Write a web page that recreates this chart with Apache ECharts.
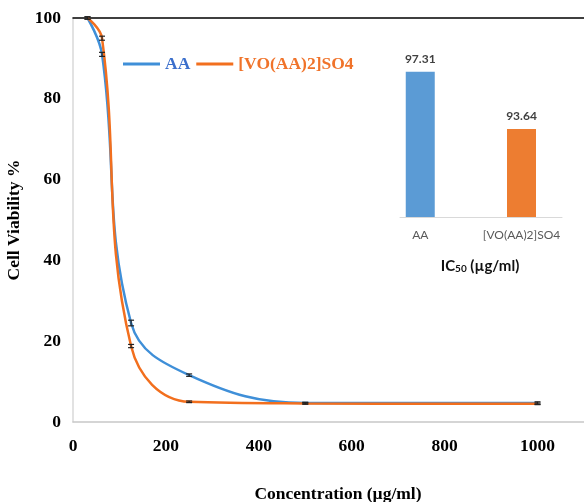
<!DOCTYPE html>
<html>
<head>
<meta charset="utf-8">
<script src="https://cdn.jsdelivr.net/npm/echarts@6/dist/echarts.min.js"></script>
<style>
  html, body { margin: 0; padding: 0; background: #fff; }
  #chart { width: 584px; height: 502px; }
</style>
</head>
<body>
<div id="chart"></div>
<script>
// concentrations (µg/ml) and cell viability (%)
const conc = [31.25, 62.5, 125, 250, 500, 1000];
const aaVals = [100, 91, 24.5, 11.6, 4.7, 4.7];
const voVals = [100, 95, 18.8, 5.0, 4.6, 4.5];
const aaErr = [0.3, 0.5, 0.7, 0.3, 0.2, 0.3];
const voErr = [0.3, 0.5, 0.4, 0.2, 0.2, 0.2];

// inset IC50 bars
const icNames = ["AA", "[VO(AA)2]SO4"];
const icVals = [97.31, 93.64];

const xTicks = [0, 200, 400, 600, 800, 1000];

const serif = "Liberation Serif";
const fs = 17.5;
const blue = "#3f8fd8";
const orange = "#f26f1e";

const chart = echarts.init(document.getElementById("chart"));

function pairs(vals) {
  return conc.map((c, i) => [c, vals[i]]);
}
function errRows(vals, errs) {
  return conc.map((c, i) => [c, vals[i] - errs[i], vals[i] + errs[i]]);
}

// small I-shaped error bars
function renderErr(params, api) {
  const x = api.value(0);
  const lo = api.coord([x, api.value(1)]);
  const hi = api.coord([x, api.value(2)]);
  const w = 3;
  const style = { stroke: "#222", lineWidth: 1.2 };
  return {
    type: "group",
    children: [
      { type: "line", shape: { x1: lo[0], y1: lo[1], x2: hi[0], y2: hi[1] }, style: style },
      { type: "line", shape: { x1: lo[0] - w, y1: lo[1], x2: lo[0] + w, y2: lo[1] }, style: style },
      { type: "line", shape: { x1: hi[0] - w, y1: hi[1], x2: hi[0] + w, y2: hi[1] }, style: style },
    ],
  };
}

const option = {
  animation: false,
  backgroundColor: "#fff",
  title: {
    left: 475,
    top: 253,
    textAlign: "center",
    text: "{a|IC}{b|50}{a| (µg/ml)}",
    textStyle: {
      rich: {
        a: { fontFamily: "Lato", fontSize: 15, color: "#111", fontWeight: "bold" },
        b: { fontFamily: "Lato", fontSize: 10, color: "#111", fontWeight: "bold", verticalAlign: "bottom", padding: [6, 0, 0, 0] },
      },
    },
  },
  legend: {
    left: 118,
    top: 50,
    icon: "rect",
    itemWidth: 37,
    itemHeight: 3,
    itemGap: 6,
    data: [
      { name: "AA", textStyle: { color: "#3b6fcc" } },
      { name: "[VO(AA)2]SO4", textStyle: { color: "#f0732a" } },
    ],
    textStyle: { fontFamily: serif, fontSize: fs, fontWeight: "bold" },
  },
  grid: [
    { left: 73, right: 0, top: 18, bottom: 80, outerBoundsMode: "none" },
    { left: 400, width: 162, top: 61, bottom: 285, outerBoundsMode: "none" },
  ],
  xAxis: [
    {
      type: "value",
      gridIndex: 0,
      min: 0,
      max: 1100,
      interval: 100,
      name: "Concentration (µg/ml)",
      nameLocation: "middle",
      nameGap: 63,
      nameTextStyle: { fontFamily: serif, fontSize: fs, fontWeight: "bold", color: "#000", padding: [0, 0, 0, 19] },
      axisLine: { show: true, lineStyle: { color: "#c8c8c8", width: 1.5 } },
      axisTick: { show: false },
      splitLine: { show: false },
      axisLabel: {
        customValues: xTicks,
        formatter: (v) => String(v),
        margin: 15,
        fontFamily: serif,
        fontSize: fs,
        fontWeight: "bold",
        color: "#000",
      },
    },
    {
      type: "value",
      gridIndex: 0,
      position: "top",
      min: 0,
      max: 1100,
      axisLine: { show: true, lineStyle: { color: "#000", width: 1.5 } },
      axisTick: { show: false },
      axisLabel: { show: false },
      splitLine: { show: false },
    },
    {
      type: "value",
      gridIndex: 1,
      min: -0.2,
      max: 1.4,
      axisLine: { show: true, lineStyle: { color: "#d9d9d9" } },
      axisTick: { show: false },
      splitLine: { show: false },
      axisLabel: {
        customValues: [0, 1],
        formatter: (v) => icNames[Math.round(v)],
        margin: 12,
        fontFamily: "Lato",
        fontSize: 12,
        color: "#595959",
      },
    },
  ],
  yAxis: [
    {
      type: "value",
      gridIndex: 0,
      min: 0,
      max: 100,
      interval: 20,
      name: "Cell Viability %",
      nameLocation: "middle",
      nameGap: 43,
      nameTextStyle: { fontFamily: serif, fontSize: fs, fontWeight: "bold", color: "#000" },
      axisLine: { show: true, lineStyle: { color: "#d9d9d9", width: 1.5 } },
      axisTick: { show: false },
      splitLine: { show: false },
      axisLabel: { margin: 12, fontFamily: serif, fontSize: fs, fontWeight: "bold", color: "#000" },
    },
    {
      type: "value",
      gridIndex: 1,
      min: 88,
      max: 98,
      show: false,
      splitLine: { show: false },
    },
  ],
  series: [
    {
      name: "AA",
      type: "line",
      smooth: 0.4,
      symbol: "none",
      xAxisIndex: 0,
      yAxisIndex: 0,
      lineStyle: { color: blue, width: 2.5 },
      itemStyle: { color: blue },
      data: pairs(aaVals),
      z: 3,
    },
    {
      name: "[VO(AA)2]SO4",
      type: "line",
      smooth: 0.4,
      symbol: "none",
      xAxisIndex: 0,
      yAxisIndex: 0,
      lineStyle: { color: orange, width: 2.5 },
      itemStyle: { color: orange },
      data: pairs(voVals),
      z: 3,
    },
    {
      type: "custom",
      xAxisIndex: 0,
      yAxisIndex: 0,
      renderItem: renderErr,
      data: errRows(aaVals, aaErr).concat(errRows(voVals, voErr)),
      z: 4,
    },
    {
      type: "bar",
      xAxisIndex: 2,
      yAxisIndex: 1,
      barWidth: 29,
      data: icVals.map((v, i) => ({
        value: [i, v],
        itemStyle: { color: i === 0 ? "#5b9bd5" : "#ed7d31" },
      })),
      label: {
        show: true,
        position: "top",
        distance: 7,
        formatter: (p) => p.value[1].toFixed(2),
        fontFamily: "Lato",
        fontSize: 12,
        fontWeight: "bold",
        color: "#404040",
      },
    },
  ],
};

chart.setOption(option);
</script>
</body>
</html>
